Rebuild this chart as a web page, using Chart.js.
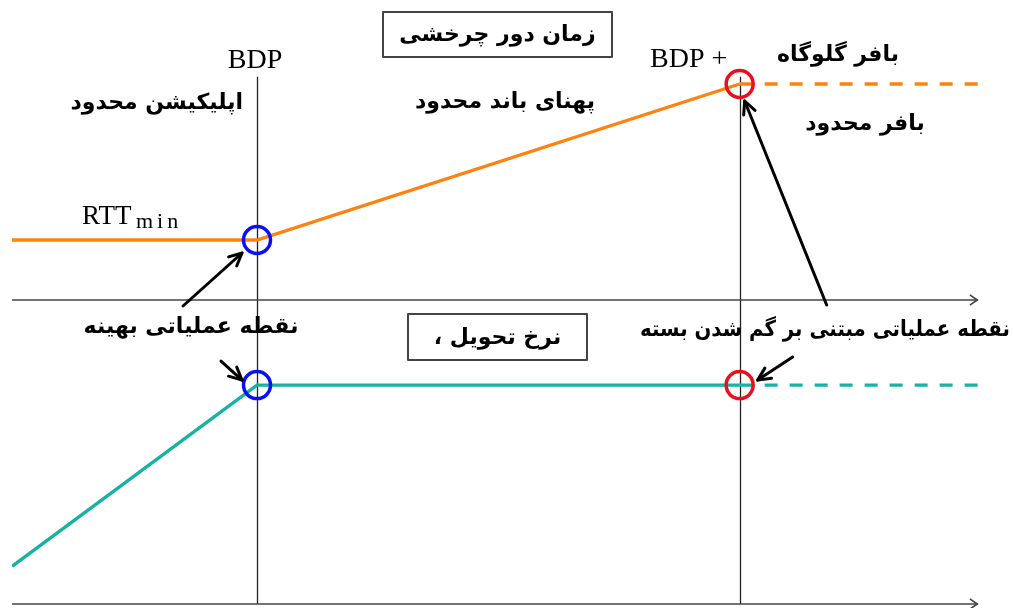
<!DOCTYPE html>
<html>
<head>
<meta charset="utf-8">
<script src="https://cdn.jsdelivr.net/npm/chart.js@4.4.1/dist/chart.umd.min.js"></script>
<style>html,body{margin:0;background:#fff}canvas{display:block}</style>
</head>
<body>
<canvas id="bbr" width="1013" height="608"></canvas>
<script>
// amount inflight, in BDP units (0 .. BDP .. BDP+buffer .. beyond)
const inflight = [0, 1, 2.97, 3.99];
const rttValues = [1, 1, 3.6, 3.6];        // round-trip time, RTTmin = 1
const rateValues = [0.62, 3.6, 3.6, 3.6];  // delivery rate
const bdpMarks = [1, 2.97];                // BDP, BDP + buffer
const markerRtt = [1, 3.6];
const markerRate = [3.6, 3.6];
const markerColors = ['#0a10f5', '#e8101c'];

const ORANGE = '#ff8210', TEAL = '#17b2a2';
const FA = '"DejaVu Sans", sans-serif';
const SERIF = '"Liberation Serif", "DejaVu Serif", serif';

const dashTail = c => c.p0DataIndex >= 2 ? [13, 12] : undefined;

const texts = [
  { t: 'اپلیکیشن محدود', x: 243, y: 103, align: 'right' },
  { t: 'پهنای باند محدود', x: 505, y: 102 },
  { t: 'بافر گلوگاه', x: 838, y: 55 },
  { t: 'بافر محدود', x: 865, y: 124 },
  { t: 'نقطه عملیاتی بهینه', x: 191, y: 327 },
  { t: 'نقطه عملیاتی مبتنی بر گم شدن بسته', x: 825, y: 330, w: 370 },
];
const boxes = [
  { t: 'زمان دور چرخشی', x0: 383, y0: 12, x1: 612, y1: 57 },
  { t: 'نرخ تحویل ،', x0: 408, y0: 314, x1: 587, y1: 360 },
];

function arrow(ctx, x1, y1, x2, y2, L, w) {
  ctx.beginPath(); ctx.moveTo(x1, y1); ctx.lineTo(x2, y2); ctx.stroke();
  const a = Math.atan2(y2 - y1, x2 - x1);
  ctx.beginPath();
  ctx.moveTo(x2 - L * Math.cos(a - w), y2 - L * Math.sin(a - w));
  ctx.lineTo(x2, y2);
  ctx.lineTo(x2 - L * Math.cos(a + w), y2 - L * Math.sin(a + w));
  ctx.stroke();
}

const decor = {
  id: 'decor',
  beforeDatasetsDraw(chart) {
    const { ctx, scales: { x, yR, yD } } = chart;
    ctx.save();
    ctx.lineCap = 'butt';
    // vertical BDP lines
    ctx.strokeStyle = '#222'; ctx.lineWidth = 1.3;
    bdpMarks.forEach(v => {
      const px = Math.round(x.getPixelForValue(v)) + 0.5;
      ctx.beginPath(); ctx.moveTo(px, yR.getPixelForValue(3.72)); ctx.lineTo(px, yD.getPixelForValue(0)); ctx.stroke();
    });
    // horizontal axes with open arrow heads
    ctx.strokeStyle = '#444'; ctx.lineWidth = 1.6;
    const x0 = x.getPixelForValue(0), xe = x.getPixelForValue(3.94);
    [yR.getPixelForValue(0), yD.getPixelForValue(0)].forEach(py => arrow(ctx, x0, py, xe, py, 9, 0.6));
    ctx.restore();
  },
  afterDatasetsDraw(chart) {
    const { ctx, scales: { x, yR, yD } } = chart;
    ctx.save();
    // arrows pointing at the operating points
    const bT = [x.getPixelForValue(bdpMarks[0]), yR.getPixelForValue(markerRtt[0])];
    const rT = [x.getPixelForValue(bdpMarks[1]), yR.getPixelForValue(markerRtt[1])];
    const bB = [x.getPixelForValue(bdpMarks[0]), yD.getPixelForValue(markerRate[0])];
    const rB = [x.getPixelForValue(bdpMarks[1]), yD.getPixelForValue(markerRate[1])];
    ctx.strokeStyle = '#000'; ctx.lineWidth = 3; ctx.lineCap = 'round'; ctx.lineJoin = 'round';
    arrow(ctx, bT[0] - 74, bT[1] + 66, bT[0] - 15, bT[1] + 13, 14, 0.45);
    arrow(ctx, rT[0] + 87, rT[1] + 221, rT[0] + 5, rT[1] + 17, 14, 0.45);
    arrow(ctx, bB[0] - 36, bB[1] - 24, bB[0] - 15, bB[1] - 5, 14, 0.45);
    arrow(ctx, rB[0] + 53, rB[1] - 28, rB[0] + 18, rB[1] - 5, 14, 0.45);

    // latin labels
    ctx.fillStyle = '#000'; ctx.textBaseline = 'alphabetic';
    ctx.font = '28px ' + SERIF; ctx.textAlign = 'center';
    ctx.fillText('BDP', 255, 68);
    ctx.textAlign = 'left';
    ctx.fillText('BDP +', 650, 67);
    ctx.font = '27px ' + SERIF;
    ctx.fillText('RTT', 82, 224);
    ctx.font = '22px ' + SERIF; ctx.letterSpacing = '4px';
    ctx.fillText('min', 136, 228);
    ctx.letterSpacing = '0px';

    // persian labels
    ctx.direction = 'rtl'; ctx.textBaseline = 'middle';
    ctx.font = 'bold 22px ' + FA;
    texts.forEach(l => {
      ctx.textAlign = l.align || 'center';
      if (l.w) ctx.fillText(l.t, l.x, l.y, l.w); else ctx.fillText(l.t, l.x, l.y);
    });
    boxes.forEach(b => {
      ctx.fillStyle = '#fff'; ctx.fillRect(b.x0, b.y0, b.x1 - b.x0, b.y1 - b.y0);
      ctx.strokeStyle = '#444'; ctx.lineWidth = 2; ctx.lineCap = 'butt';
      ctx.strokeRect(b.x0, b.y0, b.x1 - b.x0, b.y1 - b.y0);
      ctx.fillStyle = '#000'; ctx.textAlign = 'center';
      ctx.fillText(b.t, (b.x0 + b.x1) / 2, (b.y0 + b.y1) / 2 + 1);
    });
    ctx.restore();
  }
};

new Chart(document.getElementById('bbr'), {
  type: 'line',
  data: {
    datasets: [
      { label: 'operating points (RTT)', data: bdpMarks.map((v, i) => ({ x: v, y: markerRtt[i] })), yAxisID: 'yR',
        showLine: false, pointRadius: 13.5, pointBorderWidth: 3.5, pointBorderColor: markerColors,
        pointBackgroundColor: 'rgba(0,0,0,0)', order: 0 },
      { label: 'operating points (rate)', data: bdpMarks.map((v, i) => ({ x: v, y: markerRate[i] })), yAxisID: 'yD',
        showLine: false, pointRadius: 13.5, pointBorderWidth: 3.5, pointBorderColor: markerColors,
        pointBackgroundColor: 'rgba(0,0,0,0)', order: 0 },
      { label: 'RTT', data: inflight.map((v, i) => ({ x: v, y: rttValues[i] })), yAxisID: 'yR',
        borderColor: ORANGE, borderWidth: 3.4, pointRadius: 0, tension: 0, segment: { borderDash: dashTail }, order: 1 },
      { label: 'Delivery rate', data: inflight.map((v, i) => ({ x: v, y: rateValues[i] })), yAxisID: 'yD',
        borderColor: TEAL, borderWidth: 3.4, pointRadius: 0, tension: 0, segment: { borderDash: dashTail }, order: 1 },
    ]
  },
  options: {
    responsive: false, animation: false,
    layout: { autoPadding: false, padding: { left: 12, right: 21, top: 0, bottom: 4 } },
    plugins: { legend: { display: false }, tooltip: { enabled: false } },
    scales: {
      x: { type: 'linear', min: 0, max: 4, display: false },
      // stacked panels: the later-defined axis is placed on top
      yD: { type: 'linear', min: 0, max: 5, display: false, stack: 'panels', stackWeight: 304, position: 'left' },
      yR: { type: 'linear', min: 0, max: 5, display: false, stack: 'panels', stackWeight: 300, position: 'left' },
    }
  },
  plugins: [decor]
});
</script>
</body>
</html>
